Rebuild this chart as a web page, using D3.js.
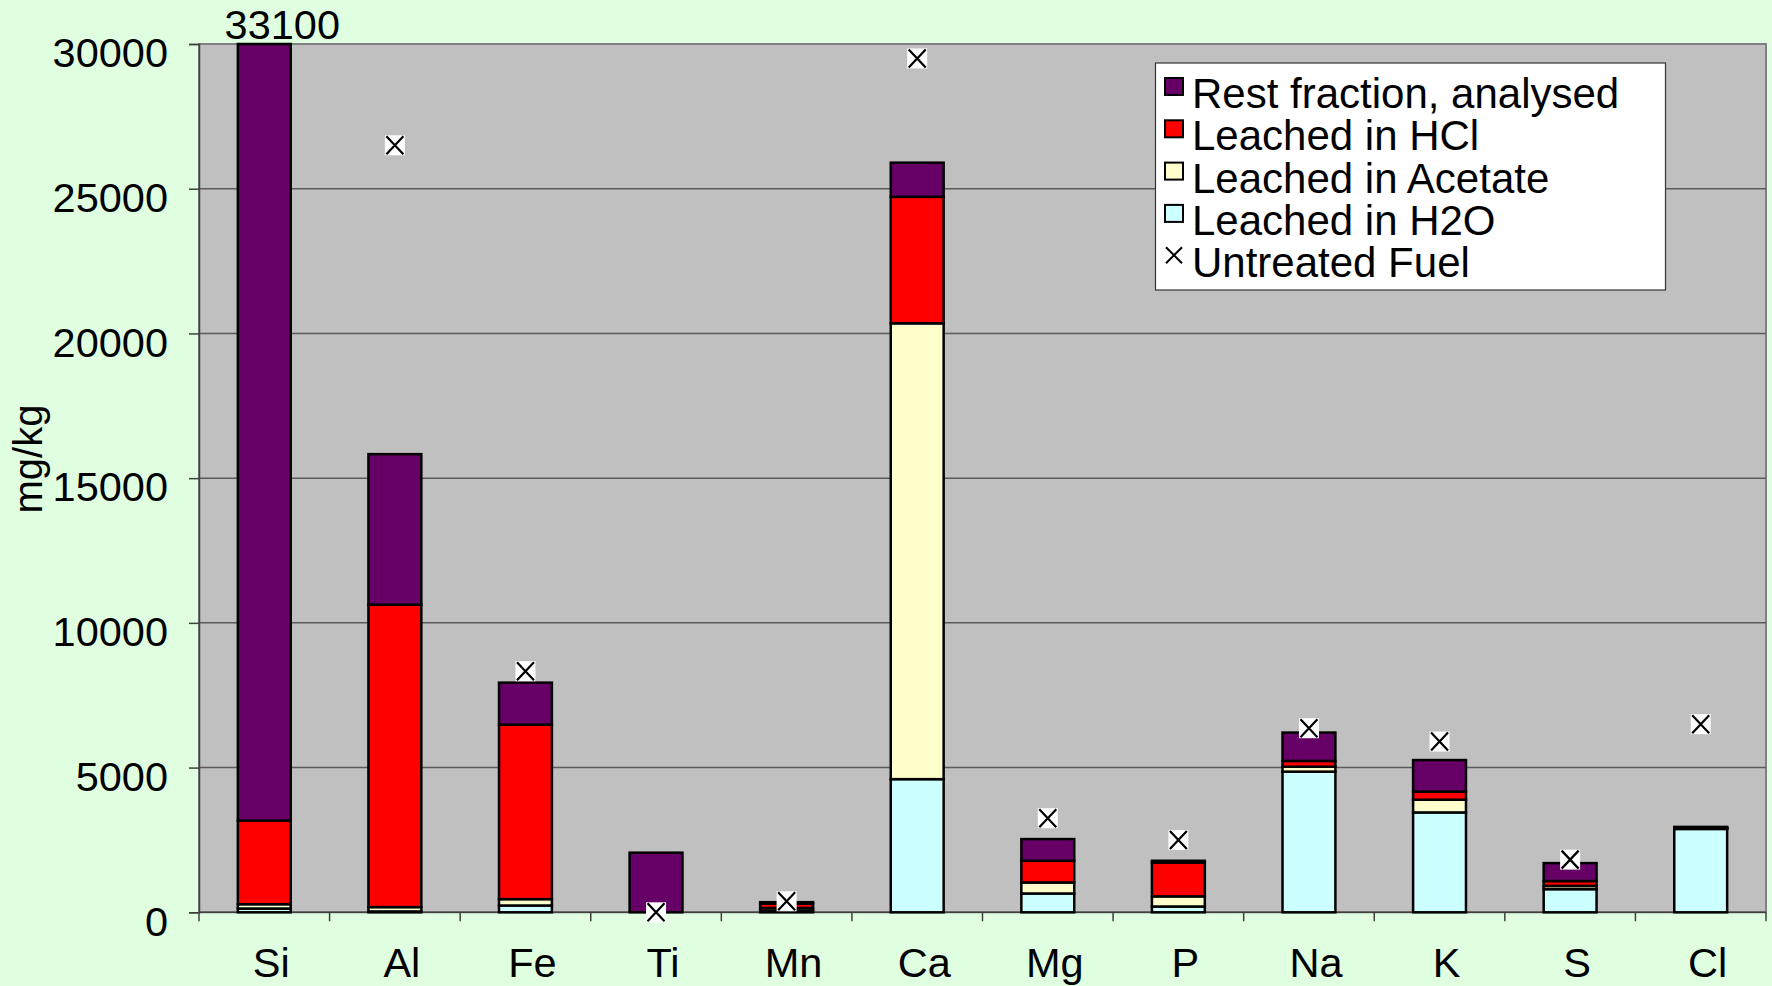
<!DOCTYPE html>
<html>
<head>
<meta charset="utf-8">
<script src="https://cdn.jsdelivr.net/npm/d3@7"></script>
<style>
  html, body { margin: 0; padding: 0; background: #e0ffe0; }
  svg { display: block; font-family: "Liberation Sans", Arial, sans-serif; }
</style>
</head>
<body>
<svg id="chart" width="1772" height="986"></svg>
<script>
const categories = ["Si","Al","Fe","Ti","Mn","Ca","Mg","P","Na","K","S","Cl"];
const seriesNames = ["Leached in H2O","Leached in Acetate","Leached in HCl","Rest fraction, analysed"];
const h2o      = [130, 30, 235, 0, 60, 4600, 650, 200, 4860, 3450, 800, 2880];
const acetate  = [150, 150, 220, 0, 90, 15750, 380, 350, 170, 440, 110, 20];
const hcl      = [2890, 10450, 6030, 0, 150, 4370, 750, 1170, 200, 280, 170, 20];
const rest     = [29930, 5200, 1450, 2060, 50, 1180, 750, 60, 980, 1090, 620, 30];
const untreated = [null, 26500, 8330, 0, 380, 29500, 3250, 2500, 6360, 5900, 1820, 6500];
const yTicks = [0, 5000, 10000, 15000, 20000, 25000, 30000];
const yTitle = "mg/kg";

const colors = {
  "Leached in H2O": "#ccffff",
  "Leached in Acetate": "#ffffcc",
  "Leached in HCl": "#ff0000",
  "Rest fraction, analysed": "#660066"
};

(function () {
const svg = d3.select("#chart");
svg.append("rect").attr("width", 1772).attr("height", 986).attr("fill", "#e0ffe0");

const pLeft = 199, pRight = 1766, pTop = 44, pBottom = 912.3;
const yMax = 30000;
const x = d3.scaleBand().domain(categories).range([pLeft, pRight]).padding(0);
const y = d3.scaleLinear().domain([0, yMax]).range([pBottom, pTop]);
const barW = x.bandwidth() * 0.405;

// plot area
svg.append("rect").attr("x", pLeft).attr("y", pTop)
  .attr("width", pRight - pLeft).attr("height", pBottom - pTop)
  .attr("fill", "#c0c0c0").attr("stroke", "#808080").attr("stroke-width", 2);

// gridlines
svg.append("g").selectAll("line").data(yTicks.filter(t => t > 0 && t < yMax)).join("line")
  .attr("x1", pLeft).attr("x2", pRight)
  .attr("y1", d => y(d)).attr("y2", d => y(d))
  .attr("stroke", "#5a5a5a").attr("stroke-width", 1.5);

// y axis
const yAxis = svg.append("g").attr("transform", `translate(${pLeft},0)`)
  .call(d3.axisLeft(y).tickValues(yTicks).tickSize(10).tickPadding(0).tickFormat(d3.format("d")));
yAxis.select(".domain").attr("stroke", "#404040").attr("stroke-width", 1.5);
yAxis.selectAll(".tick line").attr("stroke", "#404040").attr("stroke-width", 1.5);
yAxis.selectAll(".tick text")
  .attr("x", -31).attr("dy", "0.55em").attr("y", 0)
  .attr("font-size", 41.5).attr("fill", "#000")
  .attr("font-family", "Liberation Sans, Arial, sans-serif");

// x axis
const xAxis = svg.append("g").attr("transform", `translate(0,${pBottom})`);
xAxis.append("line").attr("x1", pLeft).attr("x2", pRight).attr("y1", 0).attr("y2", 0)
  .attr("stroke", "#404040").attr("stroke-width", 1.5);
xAxis.selectAll("line.tk").data(categories.map((c, i) => i).concat([categories.length])).join("line")
  .attr("class", "tk")
  .attr("x1", i => i < categories.length ? x(categories[i]) : pRight)
  .attr("x2", i => i < categories.length ? x(categories[i]) : pRight)
  .attr("y1", 0).attr("y2", 9)
  .attr("stroke", "#404040").attr("stroke-width", 1.5);
xAxis.selectAll("text").data(categories).join("text")
  .attr("x", d => x(d) + x.bandwidth() / 2 + 7)
  .attr("y", 65)
  .attr("text-anchor", "middle")
  .attr("font-size", 41.5)
  .attr("fill", "#000")
  .text(d => d);

// stacked bars
const rows = categories.map((c, i) => ({
  cat: c,
  "Leached in H2O": h2o[i],
  "Leached in Acetate": acetate[i],
  "Leached in HCl": hcl[i],
  "Rest fraction, analysed": rest[i]
}));
const stacked = d3.stack().keys(seriesNames)(rows);
const clampY = v => Math.max(y(Math.min(v, yMax)), pTop - 2);

svg.append("g").selectAll("g").data(stacked).join("g")
  .attr("fill", d => colors[d.key])
  .selectAll("rect").data(d => d).join("rect")
  .attr("x", d => x(d.data.cat) + x.bandwidth() / 2 - barW / 2)
  .attr("width", barW)
  .attr("y", d => clampY(d[1]))
  .attr("height", d => Math.max(0, y(d[0]) - clampY(d[1])))
  .attr("stroke", "#000").attr("stroke-width", 2.5);

// label for clipped Si bar
rows.forEach((r, i) => {
  const total = h2o[i] + acetate[i] + hcl[i] + rest[i];
  if (total > yMax) {
    svg.append("text")
      .attr("x", x(r.cat) + x.bandwidth() / 2 + 18)
      .attr("y", 39)
      .attr("text-anchor", "middle")
      .attr("font-size", 41.5)
      .attr("fill", "#000")
      .text(d3.format("d")(total));
  }
});

// untreated fuel markers
const mk = svg.append("g");
categories.forEach((c, i) => {
  const v = untreated[i];
  if (v === null) return;
  const cx = x(c) + x.bandwidth() / 2, cy = y(v), s = 10;
  mk.append("rect").attr("x", cx - s).attr("y", cy - s).attr("width", 2 * s).attr("height", 2 * s)
    .attr("fill", "#fff");
  mk.append("path")
    .attr("d", `M${cx - 8.5},${cy - 9}L${cx + 8.5},${cy + 9}M${cx + 8.5},${cy - 9}L${cx - 8.5},${cy + 9}`)
    .attr("stroke", "#000").attr("stroke-width", 2.2);
});

// y title
svg.append("text")
  .attr("transform", "translate(42,459) rotate(-90)")
  .attr("text-anchor", "middle")
  .attr("font-size", 40)
  .attr("fill", "#000")
  .text(yTitle);

// legend
const lg = svg.append("g");
lg.append("rect").attr("x", 1155.5).attr("y", 63).attr("width", 510).attr("height", 227)
  .attr("fill", "#fff").attr("stroke", "#333").attr("stroke-width", 1.2);
const legendItems = ["Rest fraction, analysed", "Leached in HCl", "Leached in Acetate", "Leached in H2O", "Untreated Fuel"];
legendItems.forEach((name, i) => {
  const base = 108 + i * 42.3;
  if (colors[name]) {
    lg.append("rect").attr("x", 1165).attr("y", base - 30).attr("width", 18).attr("height", 17)
      .attr("fill", colors[name]).attr("stroke", "#000").attr("stroke-width", 2);
  } else {
    const cx = 1174, cy = base - 22;
    lg.append("path")
      .attr("d", `M${cx - 8},${cy - 8}L${cx + 8},${cy + 8}M${cx + 8},${cy - 8}L${cx - 8},${cy + 8}`)
      .attr("stroke", "#000").attr("stroke-width", 2);
  }
  lg.append("text").attr("x", 1192).attr("y", base)
    .attr("font-size", 42).attr("fill", "#000").text(name);
});
})();
</script>
</body>
</html>
